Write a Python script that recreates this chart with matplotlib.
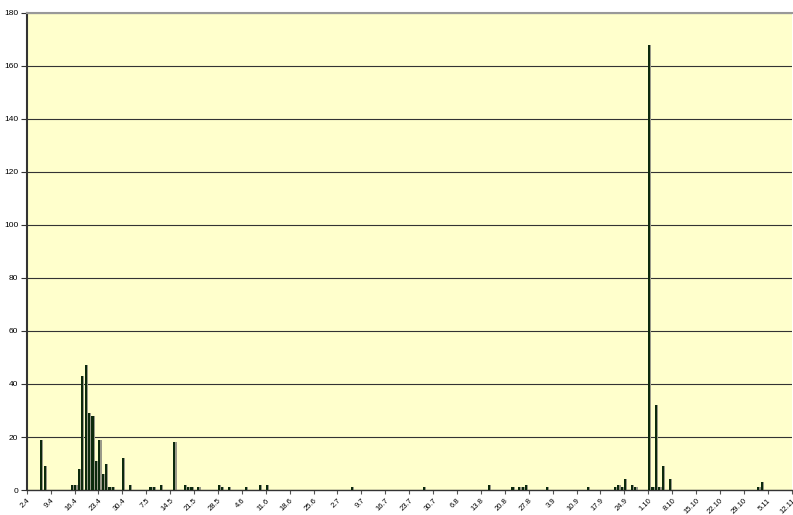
import matplotlib
matplotlib.use("Agg")
import matplotlib.pyplot as plt
import pandas as pd

# ---- data ----
start_date = "2006-04-02"
end_date = "2006-11-12"
dates = ["6.4", "7.4", "15.4", "16.4", "17.4", "18.4", "19.4", "20.4", "21.4",
         "22.4", "23.4", "24.4", "25.4", "26.4", "27.4", "30.4", "2.5", "8.5",
         "9.5", "11.5", "15.5", "18.5", "19.5", "20.5", "22.5", "28.5", "29.5",
         "31.5", "5.6", "9.6", "11.6", "6.7", "27.7", "15.8", "22.8", "24.8",
         "25.8", "26.8", "1.9", "13.9", "21.9", "22.9", "23.9", "24.9", "26.9",
         "27.9", "1.10", "2.10", "3.10", "4.10", "5.10", "7.10", "2.11", "3.11"]
counts = [19, 9, 2, 2, 8, 43, 47, 29, 28,
          11, 19, 6, 10, 1, 1, 12, 2, 1,
          1, 2, 18, 2, 1, 1, 1, 2, 1,
          1, 1, 2, 2, 1, 1, 2, 1, 1,
          1, 2, 1, 1, 1, 2, 1, 4, 2,
          1, 168, 1, 32, 1, 9, 4, 1, 3]
tick_labels = ["2.4", "9.4", "16.4", "23.4", "30.4", "7.5", "14.5", "21.5", "28.5",
               "4.6", "11.6", "18.6", "25.6", "2.7", "9.7", "16.7", "23.7", "30.7",
               "6.8", "13.8", "20.8", "27.8", "3.9", "10.9", "17.9", "24.9", "1.10",
               "8.10", "15.10", "22.10", "29.10", "5.11", "12.11"]
y_ticks = [0, 20, 40, 60, 80, 100, 120, 140, 160, 180]

# ---- positions from dates ----
t0 = pd.Timestamp(start_date)
t_end = pd.Timestamp(end_date)
def day_index(s):
    d, m = s.split(".")
    return (pd.Timestamp(year=t0.year, month=int(m), day=int(d)) - t0).days

x = [day_index(s) + 0.25 for s in dates]
tick_pos = [day_index(s) for s in tick_labels]
n_days = (t_end - t0).days

plt.rcParams['font.family'] = ['Liberation Sans', 'DejaVu Sans']
fig = plt.figure(figsize=(7.93, 5.15), dpi=100)
ax = fig.add_axes([0.0337, 0.0485, 0.9646, 0.9265])
ax.set_facecolor('#FFFFCC')

# shadow + bars
ax.bar([v + 0.35 for v in x], counts, width=0.6, color='#9a9a8a', zorder=2)
ax.bar(x, counts, width=0.62, color='#0c2a0c', zorder=3)

ax.set_xlim(0, n_days)
ax.set_ylim(0, 180)
ax.set_yticks(y_ticks)
ax.set_yticklabels([str(v) for v in y_ticks], fontsize=6)
ax.set_xticks(tick_pos)
ax.set_xticklabels(tick_labels, fontsize=5.5, rotation=45, ha='right',
                   rotation_mode='anchor')
ax.tick_params(axis='x', length=3, width=0.8, color='#555555', pad=2)
ax.tick_params(axis='y', length=4, width=0.8, color='#333333', pad=2)

ax.yaxis.grid(True, color='#333333', linewidth=0.8, zorder=1)
ax.set_axisbelow(True)

ax.spines['top'].set_color('#999999')
ax.spines['top'].set_linewidth(1.5)
ax.spines['right'].set_visible(False)
ax.spines['left'].set_color('#333333')
ax.spines['left'].set_linewidth(1.5)
ax.spines['bottom'].set_color('#333333')
ax.spines['bottom'].set_linewidth(1.0)

fig.savefig("out.png", dpi=100, facecolor='white')
